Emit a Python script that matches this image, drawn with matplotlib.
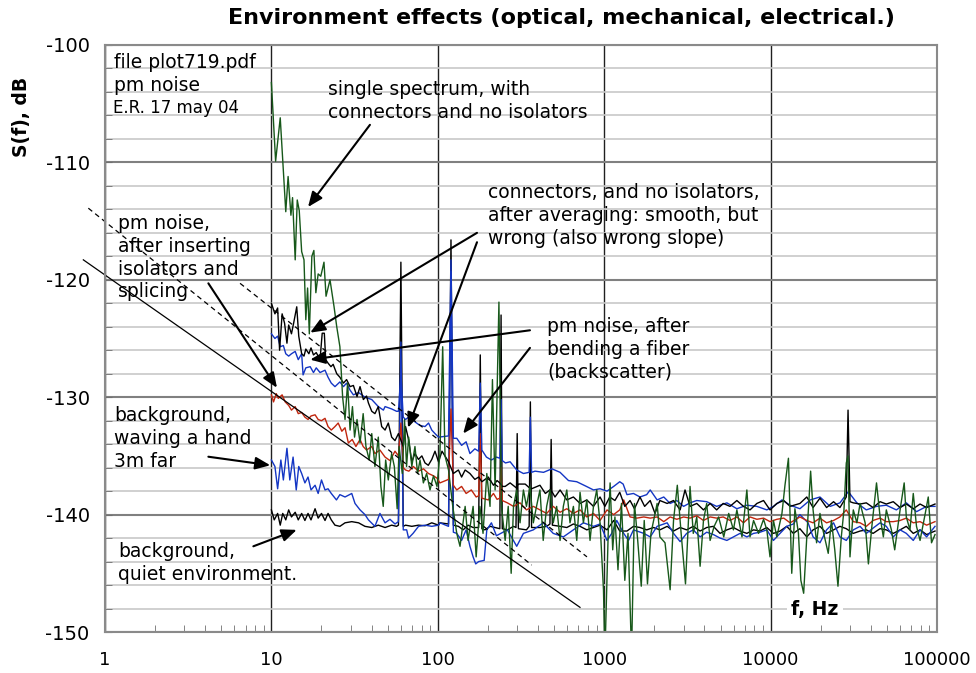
import matplotlib
matplotlib.use('Agg')
import matplotlib.pyplot as plt
from matplotlib.ticker import LogLocator, MultipleLocator, NullFormatter

W, H = 976, 673

TITLE = "Environment effects (optical, mechanical, electrical.)"
XTICKS = [1, 10, 100, 1000, 10000, 100000]
XTICK_LABELS = ["1", "10", "100", "1000", "10000", "100000"]
YTICKS = [-150, -140, -130, -120, -110, -100]
YTICK_LABELS = ["-150", "-140", "-130", "-120", "-110", "-100"]

# (frequency Hz, S(f) dB)
QUIET = [(10.0, -139.6), (10.4, -140.45), (10.9, -139.9), (11.3, -140.9), (11.7, -139.9), (12.2, -140.45),
         (12.7, -139.6), (13.2, -140.2), (13.9, -139.8), (14.5, -140.45), (15.2, -139.9), (15.9, -140.5),
         (16.6, -139.9), (17.3, -140.45), (18.3, -139.5), (19.1, -140.3), (20.0, -139.9), (21.0, -140.5),
         (21.9, -139.9), (22.9, -140.45), (24.1, -140.9), (25.8, -141.0), (27.7, -140.7), (30.4, -140.6),
         (33.4, -140.7), (36.5, -141.0), (40.1, -141.1), (43.9, -140.9), (48.2, -141.1), (52.8, -140.9),
         (56.5, -141.0), (58, -140.9), (60, -118.5), (62, -141.0), (64, -140.9), (69.8, -141.0),
         (76.5, -140.9), (83.8, -140.95), (92, -140.7), (101, -140.9), (103, -140.7), (116, -140.8),
         (120, -116.6), (124, -140.9), (133, -141.0), (142, -141.3), (152, -140.9), (163, -141.1),
         (176, -141.1), (180, -126.4), (184, -141.2), (192, -141.3), (206, -141.0), (221, -141.1),
         (236, -141.2), (240, -123.0), (244, -141.2), (262, -141.3), (285, -141.0), (295, -141.1),
         (300, -133.1), (305, -141.2), (341, -141.3), (354, -141.0), (360, -130.4), (366, -141.1),
         (411, -141.1), (451, -141.0), (472, -140.8), (480, -133.6), (488, -140.9), (543, -141.0),
         (596, -141.1), (653, -140.8), (716, -141.0), (786, -141.3), (862, -141.1), (944, -140.9),
         (1040, -141.3), (1140, -140.5), (1240, -141.4), (1370, -141.4), (1500, -141.0), (1640, -141.1),
         (1800, -141.3), (1980, -141.1), (2160, -141.3), (2390, -141.0), (2610, -141.4), (2860, -141.1),
         (3130, -141.3), (3430, -141.0), (3770, -141.4), (4130, -141.1), (4530, -141.0), (4970, -141.6),
         (5460, -141.3), (5980, -141.1), (6550, -141.4), (7200, -141.6), (7900, -141.3), (8640, -141.4),
         (9490, -141.1), (10400, -141.6), (11400, -141.4), (12500, -141.0), (13700, -141.6), (15000, -141.2),
         (16500, -141.9), (18000, -141.3), (19800, -141.0), (21700, -141.6), (23900, -141.3), (26100, -141.0),
         (28500, -141.2), (31400, -141.6), (34500, -141.4), (37600, -141.3), (41300, -141.6), (45500, -141.2),
         (49600, -141.3), (54600, -141.6), (60000, -141.3), (65400, -141.0), (72000, -141.6), (79100, -141.3),
         (86600, -141.7), (97300, -141.4)]

HAND = [(10.0, -135.35), (10.5, -135.9), (10.9, -137.8), (11.4, -135.35), (11.8, -137.05), (12.4, -134.35),
        (12.9, -137.05), (13.5, -135.1), (14.1, -137.9), (14.6, -135.9), (15.2, -136.5), (15.9, -137.3),
        (16.6, -136.8), (17.3, -137.9), (18.3, -137.5), (19.1, -138.2), (20.0, -137.05), (21.0, -137.9),
        (21.9, -137.8), (22.9, -138.2), (24.6, -138.75), (25.8, -138.3), (27.7, -138.5), (30.4, -138.2),
        (31.8, -139.05), (34.1, -139.6), (36.5, -140.0), (38.3, -140.45), (41.9, -141.0), (44.9, -139.9),
        (48.2, -140.7), (51.6, -140.4), (55.3, -140.8), (58, -140.6), (60, -125.3), (62, -141.3),
        (65, -141.3), (66.7, -142.0), (71, -141.6), (76.6, -141.0), (83.8, -140.9), (92, -141.0),
        (101, -140.9), (103, -140.7), (116, -141.0), (120, -119.3), (124, -141.5), (130, -141.6),
        (139, -142.2), (148, -141.3), (156, -142.7), (163, -143.6), (169, -144.2), (176, -144.0),
        (190, -143.9), (197, -141.3), (210, -140.7), (225, -141.8), (262, -141.3), (298, -142.7),
        (327, -141.6), (375, -141.3), (430, -140.7), (494, -141.6), (568, -141.9), (653, -141.3),
        (750, -140.7), (862, -141.0), (944, -140.8), (1040, -142.2), (1110, -141.6), (1190, -140.5),
        (1310, -141.6), (1400, -142.2), (1500, -141.3), (1730, -141.6), (1890, -141.9), (2080, -141.0),
        (2390, -140.7), (2610, -141.6), (2860, -142.3), (3130, -141.6), (3430, -141.3), (3770, -141.9),
        (4130, -141.5), (4530, -141.7), (4970, -142.0), (5460, -142.2), (5980, -141.9), (6550, -141.6),
        (7200, -141.9), (7900, -141.6), (8640, -141.5), (9490, -141.3), (10400, -142.2), (11400, -141.6),
        (12500, -141.0), (13700, -140.8), (15000, -140.0), (16800, -140.7), (18000, -141.9), (19800, -142.4),
        (21700, -141.3), (23900, -140.7), (26100, -141.9), (28500, -142.2), (31400, -141.3), (34500, -141.0),
        (37600, -141.6), (41300, -141.15), (45500, -140.7), (49600, -141.0), (54600, -141.9), (60000, -141.3),
        (65400, -141.6), (72000, -142.2), (79100, -141.3), (86600, -141.9), (97300, -141.0)]

ISOLATED = [(10.0, -129.8), (10.3, -130.4), (10.7, -129.7), (11.0, -130.1), (11.6, -129.8), (12.1, -130.4),
            (12.7, -130.7), (13.2, -131.1), (13.9, -130.8), (14.5, -131.4), (15.2, -131.3), (15.9, -131.7),
            (16.6, -131.9), (17.3, -131.6), (18.3, -131.5), (19.1, -131.9), (20.0, -132.0), (21.0, -131.8),
            (21.9, -132.5), (22.9, -132.8), (24.1, -132.5), (25.2, -132.2), (26.5, -132.9), (27.7, -132.6),
            (29.0, -133.9), (30.6, -133.6), (32.2, -134.2), (34.1, -133.6), (35.6, -134.2), (37.3, -134.5),
            (40.1, -134.2), (41.9, -134.8), (44.9, -134.5), (48.2, -135.1), (51.6, -135.4), (55.3, -134.6),
            (58, -135.0), (60, -132.2), (62, -136.0), (64, -136.2), (67, -136.3), (71.3, -135.9),
            (76.5, -136.3), (82.0, -136.1), (87.9, -136.5), (94.3, -136.7), (98.9, -136.9), (103, -137.3),
            (116, -137.0), (120, -131.0), (124, -137.5), (130, -137.9), (139, -137.6), (148, -138.2),
            (159, -137.9), (170, -138.5), (176, -138.4), (180, -133.1), (184, -138.6), (201, -138.75),
            (216, -138.2), (227, -138.7), (236, -138.6), (240, -136.0), (244, -138.8), (262, -139.0),
            (285, -139.3), (312, -139.0), (341, -139.6), (375, -139.3), (411, -139.6), (451, -139.9),
            (494, -139.3), (543, -139.8), (596, -139.5), (653, -139.9), (716, -139.6), (786, -140.2),
            (862, -139.9), (944, -140.5), (1040, -139.6), (1140, -140.0), (1240, -139.6), (1310, -138.75),
            (1430, -140.2), (1570, -140.3), (1730, -140.2), (1890, -140.3), (2080, -140.2), (2280, -140.6),
            (2490, -140.2), (2730, -140.4), (3000, -140.2), (3280, -140.3), (3600, -140.1), (3950, -140.5),
            (4330, -140.2), (4740, -140.3), (5190, -140.2), (5700, -140.5), (6270, -140.2), (6870, -140.7),
            (7520, -140.2), (8270, -140.4), (9070, -140.3), (9920, -140.6), (10900, -140.4), (12000, -140.3),
            (13100, -140.7), (15000, -140.2), (16500, -140.5), (18000, -140.7), (19800, -140.3), (21700, -140.7),
            (23900, -140.5), (26100, -140.2), (28500, -139.6), (31400, -140.6), (34500, -140.7), (37600, -141.0),
            (41300, -140.5), (45500, -140.3), (49600, -140.6), (54600, -140.6), (60000, -140.5), (65400, -140.3),
            (72000, -140.7), (79100, -140.6), (86600, -140.9), (97300, -140.6)]

BENT = [(10.0, -124.6), (10.5, -125.0), (10.9, -124.8), (11.3, -125.7), (11.8, -125.6), (12.2, -126.3),
        (12.7, -126.5), (13.2, -126.3), (13.9, -126.1), (14.5, -126.8), (15.2, -126.3), (15.5, -128.1),
        (16.1, -127.5), (17.1, -127.4), (17.9, -127.9), (18.6, -127.5), (19.6, -127.9), (21.0, -127.7),
        (21.9, -128.3), (22.9, -128.8), (24.1, -129.1), (25.8, -128.7), (27.1, -129.1), (28.3, -128.8),
        (29.7, -129.4), (31.1, -129.8), (33.4, -129.6), (36.5, -130.0), (40.1, -130.2), (43.9, -130.8),
        (47.1, -131.1), (48.2, -130.8), (52.8, -131.0), (56.5, -131.2), (58, -131.2), (60, -128.0),
        (62, -131.7), (64, -131.9), (68, -131.6), (72.9, -132.1), (78, -132.4), (83.8, -132.5),
        (88, -132.2), (92, -132.8), (96.2, -133.1), (101, -133.4), (116, -133.3), (120, -118.3),
        (124, -133.5), (130, -133.5), (139, -134.1), (148, -133.8), (156, -134.8), (167, -134.4),
        (176, -134.6), (180, -128.8), (184, -134.5), (196, -135.1), (210, -135.35), (225, -135.1),
        (236, -135.2), (240, -130.2), (244, -135.4), (255, -135.6), (272, -135.5), (298, -136.2),
        (327, -136.5), (354, -136.4), (360, -131.7), (366, -136.4), (384, -136.3), (432, -136.4),
        (485, -136.1), (543, -136.4), (610, -137.1), (684, -137.2), (782, -137.6), (862, -137.9),
        (944, -137.8), (1040, -138.0), (1140, -137.6), (1240, -137.2), (1300, -137.4), (1370, -138.3),
        (1500, -138.2), (1640, -138.5), (1800, -138.3), (1890, -137.9), (2080, -138.75), (2280, -138.5),
        (2490, -139.05), (2730, -138.8), (3000, -139.3), (3280, -139.0), (3600, -138.8), (4130, -138.9),
        (4740, -139.3), (5460, -139.0), (6270, -139.5), (7200, -139.2), (8270, -139.3), (9490, -139.6),
        (10400, -139.3), (11700, -138.75), (13100, -139.2), (15000, -139.5), (17300, -138.75), (19800, -138.5),
        (22800, -139.3), (26100, -139.0), (29300, -138.05), (33000, -139.0), (37600, -139.6), (43300, -139.3),
        (49600, -139.2), (57000, -139.6), (65400, -139.0), (75300, -139.75), (86600, -139.3), (97300, -139.3)]

AVERAGED = [(10.0, -122.0), (10.5, -122.9), (10.9, -122.4), (11.2, -126.0), (11.6, -122.9), (12.0, -123.7),
            (12.4, -125.4), (12.7, -123.85), (13.2, -124.6), (13.6, -123.7), (14.2, -122.3), (14.6, -124.8),
            (15.2, -126.3), (15.7, -126.5), (16.1, -125.9), (16.8, -126.3), (17.3, -125.8), (17.9, -126.4),
            (18.6, -126.2), (19.6, -126.8), (20.2, -124.55), (20.8, -124.55), (21.2, -126.8), (21.9, -127.1),
            (22.8, -127.4), (23.5, -127.2), (24.7, -128.0), (25.8, -128.3), (27.1, -128.8), (28.3, -128.5),
            (29.7, -129.1), (31.1, -129.0), (32.7, -129.95), (34.1, -129.1), (35.7, -130.2), (37.3, -129.9),
            (38.3, -130.5), (40.1, -131.2), (41.9, -131.4), (43.9, -130.8), (46.0, -132.5), (48.2, -132.8),
            (50.4, -132.2), (52.8, -133.4), (55.3, -133.7), (58, -133.1), (62, -134.2), (64, -132.5),
            (66.7, -133.6), (69.8, -135.5), (72.9, -134.8), (76.5, -135.3), (80.2, -135.0), (83.8, -135.6),
            (87.7, -135.8), (92.0, -135.3), (96.2, -134.6), (101, -135.5), (106, -134.6), (116, -135.5),
            (124, -136.5), (133, -136.2), (139, -136.8), (146, -136.2), (156, -136.5), (167, -137.0),
            (176, -136.8), (184, -137.2), (201, -136.8), (216, -137.5), (227, -137.1), (236, -137.3),
            (244, -137.6), (254, -137.6), (272, -137.3), (295, -137.7), (305, -137.4), (335, -137.4),
            (354, -137.7), (366, -137.8), (411, -137.5), (443, -138.2), (472, -137.9), (488, -138.1),
            (506, -138.5), (543, -137.9), (596, -138.75), (653, -138.5), (716, -139.05), (786, -138.75),
            (862, -139.3), (944, -138.5), (1010, -139.3), (1080, -138.5), (1160, -138.8), (1240, -138.1),
            (1330, -139.3), (1430, -138.8), (1520, -139.5), (1640, -138.5), (1750, -139.3), (1890, -138.8),
            (2020, -139.9), (2160, -138.8), (2390, -139.05), (2610, -138.8), (2860, -139.6), (3060, -137.9),
            (3280, -139.3), (3600, -139.05), (3950, -139.6), (4330, -139.05), (4740, -139.6), (5190, -139.05),
            (5700, -139.3), (6270, -138.8), (6870, -139.3), (7520, -139.6), (8270, -139.05), (9070, -138.8),
            (9920, -139.6), (10900, -139.05), (12000, -138.8), (13100, -139.3), (15000, -139.05), (16500, -138.5),
            (18000, -139.4), (19800, -138.6), (21700, -139.4), (23900, -138.9), (26100, -139.4), (28500, -138.5),
            (29200, -131.1), (30000, -138.9), (31400, -139.0), (34500, -139.1), (37600, -139.0), (41300, -139.4),
            (45500, -138.9), (49600, -139.1), (54600, -138.9), (60000, -139.4), (65400, -139.1), (72000, -139.5),
            (79100, -139.1), (86600, -139.4), (97300, -139.1)]

SINGLE = [(10.0, -103.2), (10.6, -109.9), (11.3, -106.2), (12.2, -114.2), (12.6, -111.2), (13.1, -114.5),
          (13.4, -113.0), (13.9, -118.3), (14.3, -113.2), (14.7, -114.1), (15.2, -117.6), (15.7, -118.3),
          (16.1, -123.4), (16.5, -120.7), (16.9, -124.6), (17.5, -118.0), (18.0, -117.5), (18.5, -121.1),
          (19.1, -119.5), (19.8, -119.7), (20.7, -118.5), (21.3, -121.4), (22.5, -120.0), (23.8, -122.3),
          (24.7, -124.0), (25.8, -125.7), (26.8, -130.0), (27.7, -131.9), (28.7, -128.8), (29.7, -132.8),
          (30.7, -130.8), (31.6, -133.4), (32.7, -131.9), (34.1, -133.9), (35.6, -131.4), (37.0, -134.2),
          (38.7, -135.35), (40.1, -133.1), (41.9, -135.9), (43.9, -133.4), (45.5, -137.6), (47.0, -139.3),
          (48.6, -135.35), (50.4, -137.05), (52.8, -134.8), (54.8, -135.9), (57.0, -139.5), (58.5, -134.2),
          (61.2, -136.5), (63.1, -131.9), (64.9, -135.9), (66.8, -133.4), (69.8, -135.9), (72.9, -134.2),
          (75.6, -136.5), (78.2, -135.35), (81.9, -137.3), (85.7, -136.5), (89.8, -137.9), (94.2, -136.7),
          (98.9, -137.6), (103, -134.8), (107, -125.7), (110.5, -135.0), (116, -136.2), (123, -139.3),
          (130, -141.6), (136, -142.7), (146, -139.3), (152, -142.2), (163, -139.3), (170, -143.6),
          (179, -139.3), (187, -141.6), (197, -136.5), (206, -139.3), (213, -128.5), (221, -137.9),
          (233, -121.9), (241, -139.3), (254, -142.2), (265, -139.3), (276, -145.0), (285, -139.3),
          (298, -137.9), (312, -140.7), (327, -137.9), (341, -139.3), (358, -137.6), (375, -140.7),
          (392, -139.3), (411, -137.9), (430, -142.2), (451, -139.3), (472, -137.9), (494, -140.7),
          (518, -139.3), (543, -142.2), (568, -139.3), (596, -137.9), (623, -140.7), (653, -139.3),
          (684, -142.2), (716, -138.1), (750, -140.7), (786, -138.75), (822, -142.2), (862, -139.3),
          (902, -137.9), (944, -140.7), (990, -146.4), (1010, -152.0), (1057, -141.6), (1085, -137.3),
          (1125, -143.0), (1160, -140.2), (1210, -144.7), (1270, -139.05), (1330, -145.6), (1390, -141.6),
          (1460, -152.0), (1520, -139.05), (1590, -142.2), (1670, -146.1), (1740, -140.5), (1820, -145.9),
          (1910, -141.6), (2080, -139.05), (2160, -141.9), (2320, -142.4), (2490, -146.4), (2610, -140.5),
          (2750, -137.5), (2900, -141.6), (3080, -145.9), (3280, -137.6), (3430, -141.6), (3600, -140.2),
          (3770, -144.4), (3950, -140.5), (4130, -139.05), (4330, -142.2), (4580, -141.0), (4870, -140.2),
          (5230, -141.9), (5600, -139.9), (5980, -141.3), (6270, -139.6), (6730, -141.9), (7200, -137.9),
          (7520, -141.9), (7900, -140.5), (8470, -141.6), (9070, -140.4), (9490, -141.3), (9920, -143.6),
          (10400, -140.5), (10900, -141.9), (11700, -139.9), (12200, -137.5), (12800, -135.2), (13400, -145.0),
          (14000, -139.5), (14700, -141.6), (15200, -145.6), (15800, -146.7), (16500, -141.9), (17400, -136.3),
          (18000, -139.6), (18900, -142.4), (19800, -139.9), (20700, -141.4), (22200, -143.3), (23200, -140.5),
          (24300, -143.0), (25400, -146.1), (26600, -141.9), (27600, -139.6), (28500, -135.6), (29200, -135.0),
          (30000, -143.6), (31400, -139.6), (33000, -140.7), (34500, -139.05), (37000, -140.7), (38700, -144.2),
          (40600, -141.0), (43300, -137.3), (45500, -140.2), (47600, -141.9), (49600, -139.6), (53200, -141.3),
          (55700, -143.0), (60000, -139.6), (63500, -137.3), (65400, -140.2), (68800, -141.3), (72000, -138.2),
          (75300, -141.0), (79100, -142.2), (85000, -139.9), (88600, -138.5), (92700, -142.4), (97300, -141.7)]

# straight guide lines: (f, dB) end points
GUIDE_SOLID = [(0.741, -118.3), (715.5, -147.9)]
GUIDE_DASH1 = [(0.794, -113.9), (366.7, -144.3)]
GUIDE_DASH2 = [(6.48, -120.3), (788.0, -143.6)]

GREEN, BLUE, RED, BLACK = '#17581a', '#1436c4', '#c0260e', '#000000'

# arrows: tail (f, dB) -> head (f, dB)
ARROWS = [((39.1, -106.8), (16.6, -113.8)),
          ((172, -116.0), (17.1, -124.5)),
          ((172, -116.8), (66.2, -132.6)),
          ((358, -124.3), (17.1, -126.8)),
          ((358, -125.8), (142, -133.1)),
          ((4.18, -120.3), (10.8, -129.2)),
          ((4.18, -135.07), (9.85, -135.8)),
          ((7.79, -142.7), (14.2, -141.3))]

# notes: left x, first-line baseline y (pixels from top-left), text, size
NOTES = [(114, 68, "file plot719.pdf", 13.5),
         (114, 91, "pm noise", 13.5),
         (113, 113, "E.R. 17 may 04", 12),
         (328, 95, "single spectrum, with\nconnectors and no isolators", 13.5),
         (488, 198, "connectors, and no isolators,\nafter averaging: smooth, but\nwrong (also wrong slope)", 13.5),
         (547, 332, "pm noise, after\nbending a fiber\n(backscatter)", 13.5),
         (118, 229, "pm noise,\nafter inserting\nisolators and\nsplicing", 13.5),
         (114, 421, "background,\nwaving a hand\n3m far", 13.5),
         (118, 557, "background,\nquiet environment.", 13.5)]
LINE_PX = 22.8

fig = plt.figure(figsize=(W / 100, H / 100), dpi=100)
ax = fig.add_axes([105 / W, 1 - 632 / H, 832 / W, 587 / H])
ax.set_xscale('log')
ax.set_xlim(1, 1e5)
ax.set_ylim(-150, -100)

ax.set_xticks(XTICKS)
ax.set_xticklabels(XTICK_LABELS, fontsize=13)
ax.xaxis.set_minor_locator(LogLocator(base=10, subs=range(2, 10)))
ax.xaxis.set_minor_formatter(NullFormatter())
ax.set_yticks(YTICKS)
ax.set_yticklabels(YTICK_LABELS, fontsize=14)
ax.yaxis.set_minor_locator(MultipleLocator(2))
ax.tick_params(axis='x', which='major', length=0, pad=14)
ax.tick_params(axis='x', which='minor', direction='in', length=5, color='#707070')
ax.tick_params(axis='y', which='both', direction='in', length=5, color='#707070', pad=11)

ax.grid(axis='y', which='minor', color='#c8c8c8', lw=1.2)
ax.grid(axis='y', which='major', color='#808080', lw=1.5)
ax.grid(axis='x', which='major', color='#202020', lw=1.0)
ax.set_axisbelow(True)
for sp in ax.spines.values():
    sp.set_color('#8a8a8a')
    sp.set_linewidth(1.5)

for data, col in [(QUIET, BLACK), (HAND, BLUE), (ISOLATED, RED), (BENT, BLUE), (AVERAGED, BLACK), (SINGLE, GREEN)]:
    f, s = zip(*data)
    ax.plot(f, s, color=col, lw=1.0)

f, s = zip(*GUIDE_SOLID)
ax.plot(f, s, color='black', lw=0.9, clip_on=False)
for g in (GUIDE_DASH1, GUIDE_DASH2):
    f, s = zip(*g)
    ax.plot(f, s, color='black', lw=0.9, ls=(0, (4, 3)), clip_on=False)

for tail, head in ARROWS:
    ax.annotate('', xy=head, xytext=tail, annotation_clip=False,
                arrowprops=dict(arrowstyle='-|>,head_length=0.6,head_width=0.25', color='black',
                                lw=1.5, mutation_scale=15, shrinkA=0, shrinkB=0))

for x, y, txt, size in NOTES:
    # multi-line text with va='baseline' sits on the baseline of its last line
    n = txt.count('\n')
    fig.text(x / W, 1 - (y + n * LINE_PX) / H, txt, fontsize=size, ha='left', va='baseline',
             linespacing=1.25)

fig.text(815 / W, 1 - 610 / H, "f, Hz", fontsize=13.5, fontweight='bold', ha='center', va='center',
         bbox=dict(facecolor='white', edgecolor='none', pad=3))
fig.text(561 / W, 1 - 18 / H, TITLE, fontsize=16, fontweight='bold', ha='center', va='center')
fig.text(22 / W, 1 - 117 / H, "S(f), dB", fontsize=13.5, fontweight='bold', rotation=90,
         ha='center', va='center')

fig.savefig('out.png', dpi=100)
